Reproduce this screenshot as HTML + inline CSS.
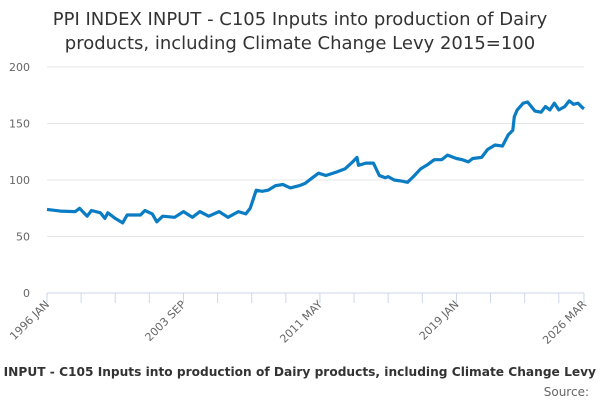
<!DOCTYPE html>
<html><head><meta charset="utf-8"><style>
body{margin:0;background:#fff;width:600px;height:400px;overflow:hidden;font-family:"Liberation Sans","DejaVu Sans",sans-serif}
</style></head><body>
<svg width="600" height="400" xmlns="http://www.w3.org/2000/svg">
<text x="300" y="25" text-anchor="middle" font-size="18" fill="#333" font-family="DejaVu Sans, sans-serif">PPI INDEX INPUT - C105 Inputs into production of Dairy</text>
<text x="300" y="49" text-anchor="middle" font-size="18" fill="#333" font-family="DejaVu Sans, sans-serif">products, including Climate Change Levy 2015=100</text>
<g id="grid"></g>
<g id="yl"></g>
<line x1="47" y1="293" x2="584" y2="293" stroke="#ccd6eb"/>
<g id="xt"></g>
<g id="xl"></g>
<path id="series" fill="none" stroke="#0a7cc4" stroke-width="3.2" stroke-linejoin="round"/>
<text x="300" y="376" text-anchor="middle" font-size="12.2" font-weight="bold" fill="#333" font-family="DejaVu Sans, sans-serif">PPI INDEX INPUT - C105 Inputs into production of Dairy products, including Climate Change Levy 2015=100</text>
<text x="589" y="396" text-anchor="end" font-size="12" fill="#666" font-family="DejaVu Sans, sans-serif">Source:</text>
</svg>
<script>
const months=[0,9,19,22,27,30,36,39,41,46,51,54,63,66,71,74,78,86,92,98,103,109,116,122,129,134,137,141,145,149,154,159,164,170,174,179,183,188,195,201,206,209,210,215,220,224,228,230,234,239,243,247,252,257,261,266,270,276,280,284,287,293,297,302,307,311,314,315,317,321,324,329,333,336,339,342,345,349,352,355,358,361,362];
const values=[74,72.5,72,75,68,73,71,66,71,66,62,69,69,73,70,63,68,67,72,67,72,68,72,67,72,70,75,91,90,91,95,96,93,95,97,102,106,104,107,110,116,120,113,115,115,104,102,103,100,99,98,103,110,114,118,118,122,119,118,116,119,120,127,131,130,140,144,156,162,168,169,161,160,165,162,168,162,165,170,167,168,164,163];
const yTicks=[0,50,100,150,200];
const tickMonths=[0,23,46,69,92,115,138,161,184,207,230,253,276,299,322,345,362];
const xLabels=[[0,"1996 JAN"],[92,"2003 SEP"],[184,"2011 MAY"],[276,"2019 JAN"],[362,"2026 MAR"]];
const NS="http://www.w3.org/2000/svg";
const x=m=>47+m*(537/362);
const y=v=>293-v*(226/200);
function mk(t,a,p){const e=document.createElementNS(NS,t);for(const k in a)e.setAttribute(k,a[k]);p.appendChild(e);return e;}
const g=document.getElementById('grid'),yl=document.getElementById('yl'),xt=document.getElementById('xt'),xl=document.getElementById('xl');
yTicks.forEach(v=>{
 if(v>0){const l=mk('line',{x1:47,x2:584,y1:y(v),y2:y(v),stroke:'#e6e6e6'},g);
 
 }
 const t=mk('text',{x:30,y:y(v)+4,'text-anchor':'end','font-size':11,fill:'#666','font-family':'DejaVu Sans, sans-serif'},yl);
 t.textContent=v;
 
 
});
tickMonths.forEach(m=>{
 const l=mk('line',{x1:x(m),x2:x(m),y1:293,y2:303,stroke:'#ccd6eb'},xt);
 
 
});
xLabels.forEach(([m,s])=>{
 const t=mk('text',{x:x(m)+3,y:305,'text-anchor':'end','font-size':11,fill:'#666','font-family':'DejaVu Sans, sans-serif',transform:`rotate(-45 ${x(m)+3} 305)`},xl);
 t.textContent=s;
 
 
});
document.getElementById('series').setAttribute('d',months.map((m,i)=>(i?'L':'M')+x(m).toFixed(1)+','+y(values[i]).toFixed(1)).join(''));
</script>
</body></html>
